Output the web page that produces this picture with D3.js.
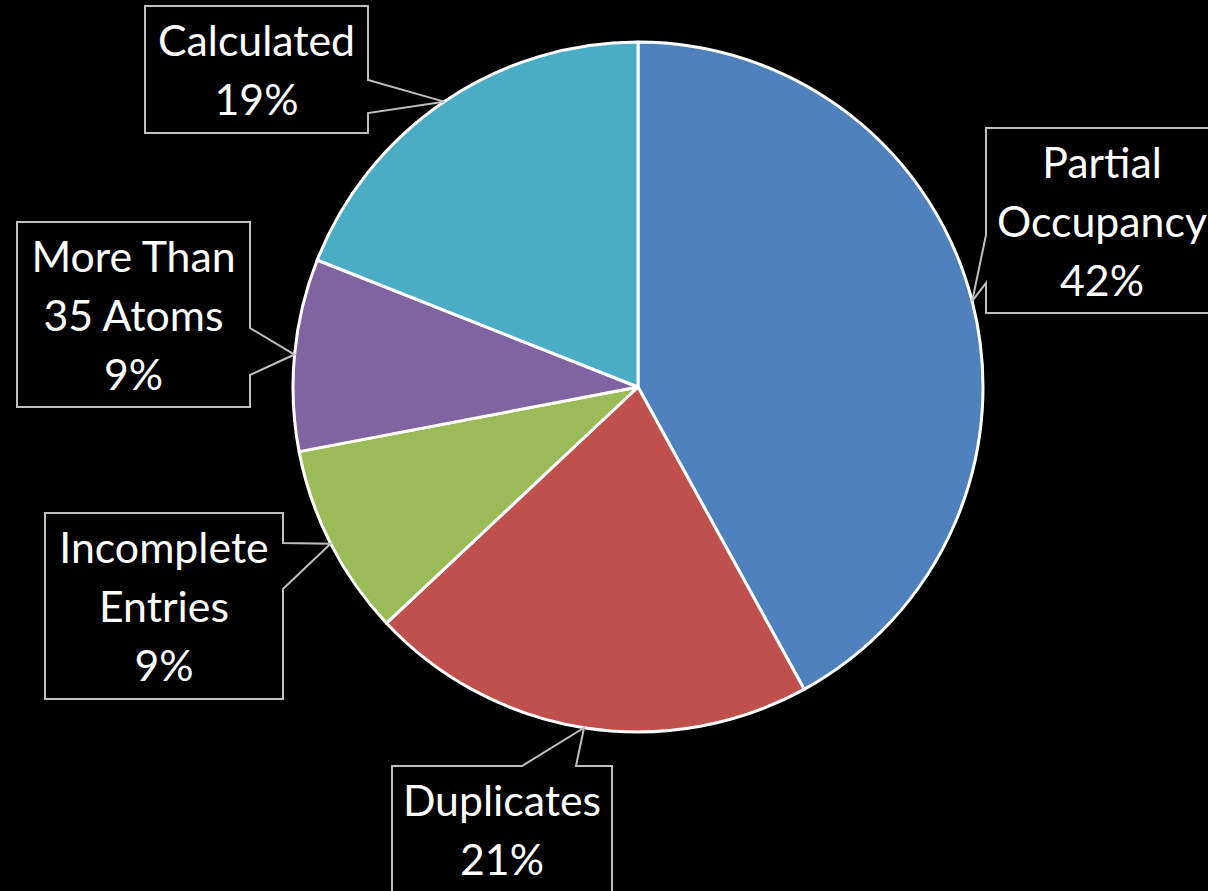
<!DOCTYPE html>
<html>
<head>
<meta charset="utf-8">
<script src="https://cdn.jsdelivr.net/npm/d3@7"></script>
<style>
  html, body { margin: 0; padding: 0; background: #000; }
  svg { display: block; }
</style>
</head>
<body>
<svg id="chart" width="1208" height="891"></svg>
<script>
// ---- data ----
const categories = ["Partial Occupancy", "Duplicates", "Incomplete Entries", "More Than 35 Atoms", "Calculated"];
const values = [42, 21, 9, 9, 19];
const labelLines = [["Partial", "Occupancy"], ["Duplicates"], ["Incomplete", "Entries"], ["More Than", "35 Atoms"], ["Calculated"]];
const colors = ["#4F81BD", "#C0504D", "#9BBB59", "#8064A2", "#4BACC6"];

// ---- layout ----
const W = 1208, H = 891;
const cx = 638, cy = 387, R = 345;
// callout boxes: [x0, y0, x1, y1], side of wedge, wedge base start/end along that side
const boxes = [
  { box: [986, 128, 1218, 313], side: "left",  b: [235, 283] },
  { box: [392, 766, 612, 893],  side: "top",   b: [522, 576] },
  { box: [45, 513, 283, 699],   side: "right", b: [543, 589] },
  { box: [17, 222, 250, 407],   side: "right", b: [328, 375] },
  { box: [145, 6, 368, 133],    side: "right", b: [80, 113] }
];
const lineGap = 59, firstBaseline = 50;

const svg = d3.select("#chart");
svg.append("rect").attr("width", W).attr("height", H).attr("fill", "#000");

const pie = d3.pie().sort(null).value(d => d)(values);
const arc = d3.arc().innerRadius(0).outerRadius(R);
const colorScale = d3.scaleOrdinal().domain(categories).range(colors);

const g = svg.append("g").attr("transform", `translate(${cx},${cy})`);
g.selectAll("path.slice")
  .data(pie)
  .join("path")
  .attr("class", "slice")
  .attr("d", arc)
  .attr("fill", (d, i) => colorScale(categories[i]))
  .attr("stroke", "#fff")
  .attr("stroke-width", 3)
  .attr("stroke-linejoin", "round");

// font fitting: measure a reference string
const fontFamily = "Lato, 'Open Sans', sans-serif";
const fontWeight = 400;
const probe = svg.append("text").attr("font-family", fontFamily).attr("font-weight", fontWeight)
  .attr("font-size", 100).text("Occupancy");
const probeW = probe.node().getComputedTextLength();
probe.remove();
const fontSize = 100 * 210 / probeW;

function calloutPath(b, tip) {
  const [x0, y0, x1, y1] = b.box;
  const [s, e] = b.b;
  const [tx, ty] = tip;
  if (b.side === "right") {
    return `M${x0},${y0}L${x1},${y0}L${x1},${s}L${tx},${ty}L${x1},${e}L${x1},${y1}L${x0},${y1}Z`;
  } else if (b.side === "left") {
    return `M${x0},${y0}L${x1},${y0}L${x1},${y1}L${x0},${y1}L${x0},${e}L${tx},${ty}L${x0},${s}Z`;
  } else { // top
    return `M${x0},${y0}L${s},${y0}L${tx},${ty}L${e},${y0}L${x1},${y0}L${x1},${y1}L${x0},${y1}Z`;
  }
}

const labels = svg.append("g");
pie.forEach((d, i) => {
  const mid = (d.startAngle + d.endAngle) / 2;
  const tip = [cx + R * Math.sin(mid), cy - R * Math.cos(mid)];
  const b = boxes[i];
  labels.append("path")
    .attr("d", calloutPath(b, tip))
    .attr("fill", "#000")
    .attr("stroke", "#BFBFBF")
    .attr("stroke-width", 2)
    .attr("stroke-linejoin", "miter");
  const lines = labelLines[i].concat([values[i] + "%"]);
  const xc = (b.box[0] + b.box[2]) / 2;
  const t = labels.append("text")
    .attr("font-family", fontFamily)
    .attr("font-weight", fontWeight)
    .attr("font-size", fontSize)
    .attr("fill", "#fff")
    .attr("text-anchor", "middle");
  lines.forEach((ln, k) => {
    t.append("tspan").attr("x", xc).attr("y", b.box[1] + firstBaseline + k * lineGap).text(ln);
  });
});
</script>
</body>
</html>
